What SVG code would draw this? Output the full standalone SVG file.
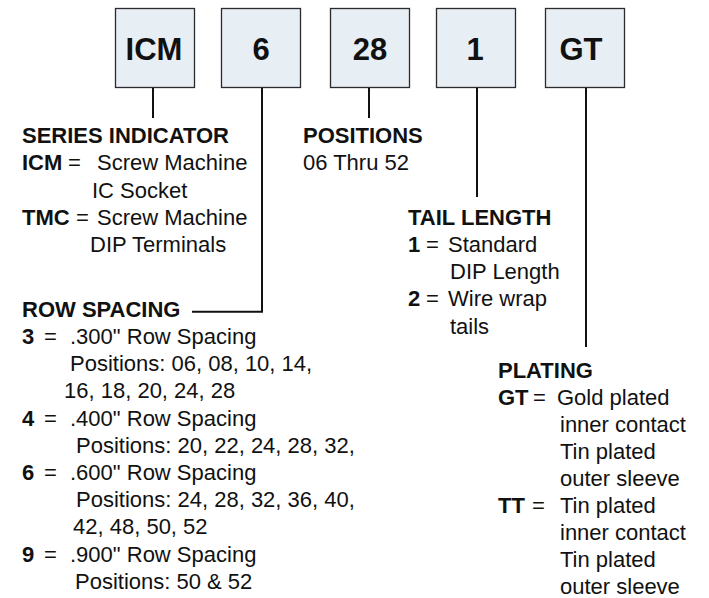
<svg xmlns="http://www.w3.org/2000/svg" width="709" height="598" viewBox="0 0 709 598">
<style>
text{font-family:"Liberation Sans",Arial,Helvetica,sans-serif;font-size:22px;fill:#111}
.b{font-weight:bold}
.lbl{font-size:31px;font-weight:bold;text-anchor:middle}
.box{fill:#e7eef4;stroke:#2b2b2b;stroke-width:1.3}
.con{fill:none;stroke:#111;stroke-width:2}
</style>
<rect width="709" height="598" fill="#fff"/>
<g id="box-icm"><rect class="box" x="115.5" y="8.5" width="79" height="79"/><text class="lbl" x="154" y="60">ICM</text></g>
<g id="box-6"><rect class="box" x="221.5" y="8.5" width="79" height="79"/><text class="lbl" x="261" y="60">6</text></g>
<g id="box-28"><rect class="box" x="330.5" y="8.5" width="79" height="79"/><text class="lbl" x="370" y="60">28</text></g>
<g id="box-1"><rect class="box" x="436.5" y="8.5" width="79" height="79"/><text class="lbl" x="475" y="60">1</text></g>
<g id="box-gt"><rect class="box" x="545.5" y="8.5" width="79" height="79"/><text class="lbl" x="581" y="60">GT</text></g>
<g id="connectors">
<path class="con" d="M153 88V118"/>
<path class="con" d="M262 88V311.7H192"/>
<path class="con" d="M369 88V118"/>
<path class="con" d="M477 88V197"/>
<path class="con" d="M586 88V347"/>
</g>
<g id="series">
<text class="b" x="22" y="143">SERIES INDICATOR</text>
<text y="170.3"><tspan class="b" x="22">ICM</tspan><tspan x="68">=</tspan><tspan x="97">Screw Machine</tspan></text>
<text x="92" y="197.5">IC Socket</text>
<text y="224.7"><tspan class="b" x="22">TMC</tspan><tspan x="76">=</tspan><tspan x="97">Screw Machine</tspan></text>
<text x="90" y="252">DIP Terminals</text>
</g>
<g id="positions">
<text class="b" x="303" y="143">POSITIONS</text>
<text x="303" y="170.3">06 Thru 52</text>
</g>
<g id="row-spacing">
<text class="b" x="22" y="316.7">ROW SPACING</text>
<text y="343.9"><tspan class="b" x="22">3</tspan><tspan x="44">=</tspan><tspan x="70">.300" Row Spacing</tspan></text>
<text x="70" y="371.1">Positions: 06, 08, 10, 14,</text>
<text x="64" y="398.3">16, 18, 20, 24, 28</text>
<text y="425.5"><tspan class="b" x="22">4</tspan><tspan x="44">=</tspan><tspan x="70">.400" Row Spacing</tspan></text>
<text x="76" y="452.7">Positions: 20, 22, 24, 28, 32,</text>
<text y="479.9"><tspan class="b" x="22">6</tspan><tspan x="44">=</tspan><tspan x="70">.600" Row Spacing</tspan></text>
<text x="76" y="507.1">Positions: 24, 28, 32, 36, 40,</text>
<text x="73" y="534.3">42, 48, 50, 52</text>
<text y="561.5"><tspan class="b" x="22">9</tspan><tspan x="44">=</tspan><tspan x="70">.900" Row Spacing</tspan></text>
<text x="75" y="588.5">Positions: 50 &amp; 52</text>
</g>
<g id="tail-length">
<text class="b" x="408" y="224.7">TAIL LENGTH</text>
<text y="251.9"><tspan class="b" x="408">1</tspan><tspan x="426">=</tspan><tspan x="448">Standard</tspan></text>
<text x="450" y="279.1">DIP Length</text>
<text y="306.3"><tspan class="b" x="408">2</tspan><tspan x="426">=</tspan><tspan x="448">Wire wrap</tspan></text>
<text x="450" y="333.5">tails</text>
</g>
<g id="plating">
<text class="b" x="498" y="378.2">PLATING</text>
<text y="405.2"><tspan class="b" x="498">GT</tspan><tspan x="533">=</tspan><tspan x="557">Gold plated</tspan></text>
<text x="560" y="432.2">inner contact</text>
<text x="560" y="459.2">Tin plated</text>
<text x="560" y="486.2">outer sleeve</text>
<text y="513.2"><tspan class="b" x="498">TT</tspan><tspan x="532">=</tspan><tspan x="560">Tin plated</tspan></text>
<text x="560" y="540.2">inner contact</text>
<text x="560" y="567.2">Tin plated</text>
<text x="560" y="594">outer sleeve</text>
</g>
</svg>
